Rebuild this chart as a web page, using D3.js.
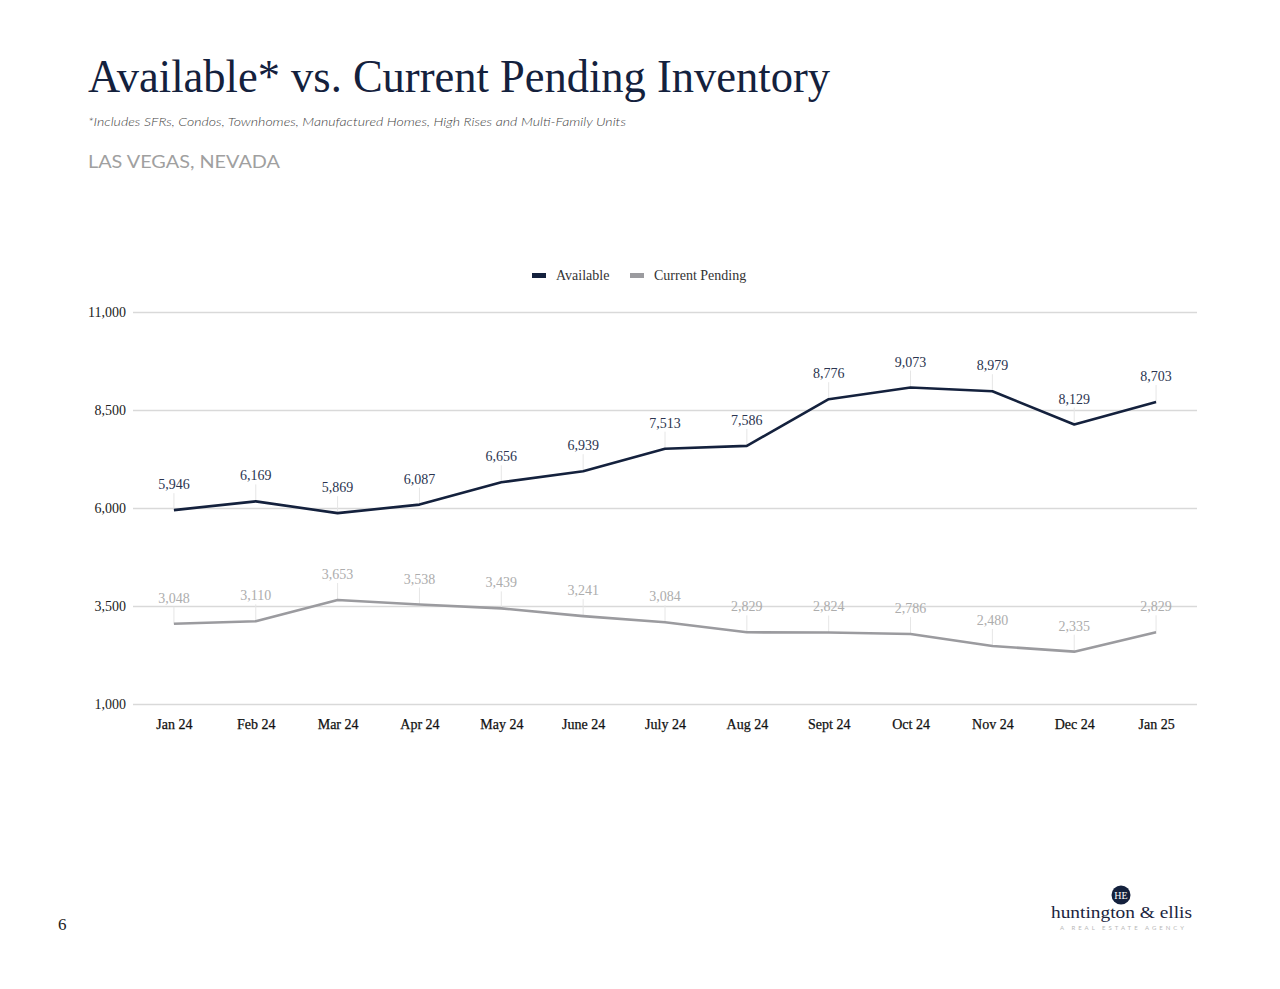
<!DOCTYPE html>
<html><head><meta charset="utf-8">
<script src="https://cdn.jsdelivr.net/npm/d3@7/dist/d3.min.js"></script>
<style>body{margin:0;background:#fff}svg{display:block}</style>
</head><body>
<svg id="c" width="1280" height="989"></svg>
<script>
const months = ["Jan 24","Feb 24","Mar 24","Apr 24","May 24","June 24","July 24","Aug 24","Sept 24","Oct 24","Nov 24","Dec 24","Jan 25"];
const available = [5946,6169,5869,6087,6656,6939,7513,7586,8776,9073,8979,8129,8703];
const pending = [3048,3110,3653,3538,3439,3241,3084,2829,2824,2786,2480,2335,2829];
const yTicks = [1000,3500,6000,8500,11000];
const seriesNames = ["Available","Current Pending"];
const colors = ["#14213d","#9b9b9f"];
const labelColors = ["#2b3550","#adadad"];

const svg = d3.select("#c");
const serif = "'Liberation Serif', 'DejaVu Serif', serif";
const sans = "Lato, 'Open Sans', sans-serif";

// Titles
svg.append("text").attr("x",88).attr("y",92).attr("font-family",serif).attr("font-size",46)
  .attr("fill","#14213d").attr("textLength",742).attr("lengthAdjust","spacingAndGlyphs")
  .text("Available* vs. Current Pending Inventory");
svg.append("text").attr("x",88).attr("y",126).attr("font-family",sans).attr("font-style","italic")
  .attr("font-weight",300).attr("font-size",12).attr("fill","#444").attr("textLength",538).attr("lengthAdjust","spacingAndGlyphs")
  .text("*Includes SFRs, Condos, Townhomes, Manufactured Homes, High Rises and Multi-Family Units");
svg.append("text").attr("x",88).attr("y",168).attr("font-family",sans).attr("font-weight",400)
  .attr("font-size",17).attr("fill","#a0a0a0").attr("textLength",192).attr("lengthAdjust","spacingAndGlyphs")
  .text("LAS VEGAS, NEVADA");

// Scales
const x = d3.scalePoint().domain(months).range([133,1197]).padding(0.5);
const y = d3.scaleLinear().domain([1000,11000]).range([704,312]);

// Grid
const grid = svg.append("g").call(d3.axisLeft(y).tickValues(yTicks).tickSize(-(1197-133)).tickFormat(d3.format(",")))
  .attr("transform","translate(133,0)");
grid.select(".domain").remove();
grid.selectAll(".tick line").attr("stroke","#d9d9d9").attr("stroke-width",1.5);
grid.selectAll(".tick text").attr("x",-7).attr("font-family",serif).attr("font-size",14).attr("fill","#222");

// X axis
const xa = svg.append("g").attr("transform","translate(0,704)").call(d3.axisBottom(x).tickSize(0));
xa.select(".domain").remove();
xa.selectAll(".tick text").attr("y",15).attr("font-family",serif).attr("font-size",14).attr("fill","#111")
  .attr("stroke","#111").attr("stroke-width",0.25);

// Series
const data = [available, pending];
data.forEach((vals, si) => {
  const pts = vals.map((v,i)=>({m:months[i],v}));
  const g = svg.append("g");
  g.selectAll("line.lead").data(pts).join("line")
    .attr("x1",d=>x(d.m)).attr("x2",d=>x(d.m))
    .attr("y1",d=>y(d.v)).attr("y2",d=>y(d.v)-17)
    .attr("stroke","#e6e6e6").attr("stroke-width",1);
  g.append("path").datum(pts)
    .attr("d", d3.line().x(d=>x(d.m)).y(d=>y(d.v)))
    .attr("fill","none").attr("stroke",colors[si]).attr("stroke-width",2.6).attr("stroke-linejoin","round");
  g.selectAll("text").data(pts).join("text")
    .attr("x",d=>x(d.m)).attr("y",d=>y(d.v)-21)
    .attr("text-anchor","middle").attr("font-family",serif).attr("font-size",14)
    .attr("fill",labelColors[si]).text(d=>d3.format(",")(d.v));
});

// Legend
const leg = svg.append("g").attr("transform","translate(0,275)");
const legX = [532,630];
seriesNames.forEach((n,i)=>{
  leg.append("rect").attr("x",legX[i]).attr("y",-2).attr("width",14).attr("height",5).attr("fill",colors[i]);
  leg.append("text").attr("x",legX[i]+24).attr("y",4.5).attr("font-family",serif).attr("font-size",14)
    .attr("fill","#333").text(n);
});

// Page number
svg.append("text").attr("x",58).attr("y",930).attr("font-family",serif).attr("font-size",17).attr("fill","#222").text("6");

// Logo
const logo = svg.append("g");
logo.append("circle").attr("cx",1121).attr("cy",895).attr("r",9.5).attr("fill","#14213d");
logo.append("text").attr("x",1121).attr("y",899).attr("text-anchor","middle").attr("font-family",serif)
  .attr("font-size",10).attr("fill","#fff").text("HE");
logo.append("text").attr("x",1051).attr("y",918).attr("font-family",serif).attr("font-size",17)
  .attr("fill","#1b2540").attr("textLength",141).attr("lengthAdjust","spacingAndGlyphs").text("huntington & ellis");
logo.append("text").attr("x",1060).attr("y",930).attr("font-family",sans).attr("font-size",6)
  .attr("fill","#b8b8b8").attr("letter-spacing",3).text("A REAL ESTATE AGENCY");
</script>
</body></html>
